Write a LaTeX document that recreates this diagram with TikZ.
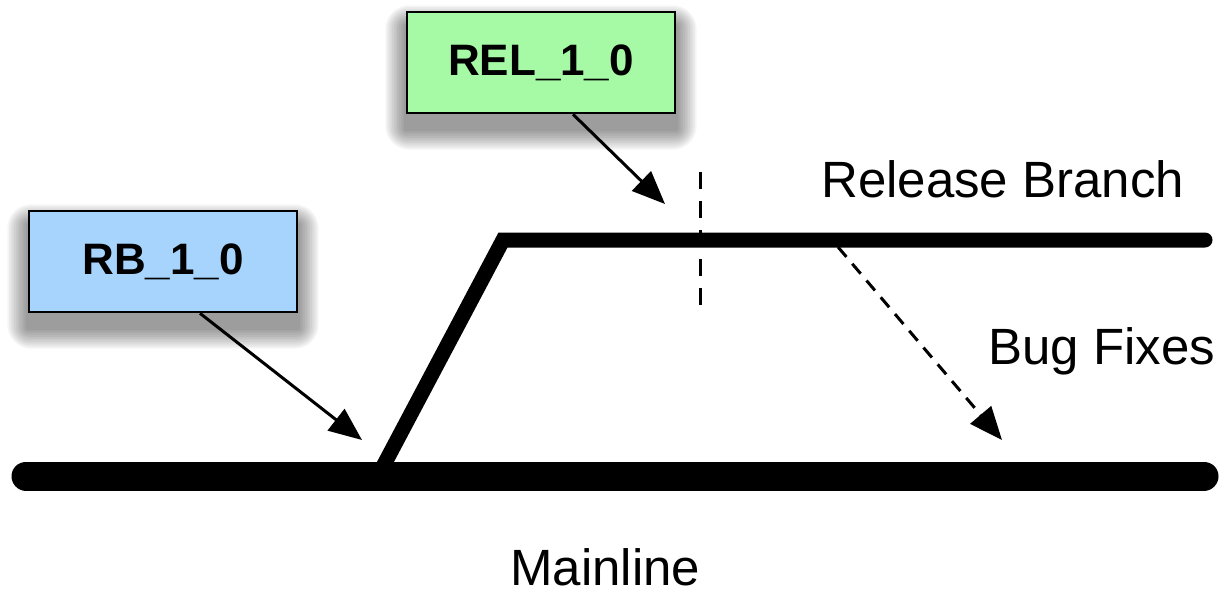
\documentclass[tikz,border=0pt]{standalone}
\usepackage{fontspec}
\setmainfont{Liberation Sans}
\usetikzlibrary{arrows.meta,backgrounds}
\definecolor{relgreen}{RGB}{166,250,166}
\definecolor{rbblue}{RGB}{166,212,252}
\tikzset{
  tagbox/.style={draw=black, line width=2.6pt, inner sep=0pt, minimum width=268pt, minimum height=101pt,
    font=\fontsize{44}{50}\selectfont\bfseries},
  lbl/.style={anchor=base west, inner sep=0pt, font=\fontsize{51}{60}\selectfont},
  ptr/.style={line width=3pt, -{Triangle[length=33pt,width=27pt]}},
  trunk/.style={line width=29pt, line cap=round},
  branch/.style={line width=15pt, line cap=round, line join=miter},
}
\newcommand{\softshadow}[1]{%
  \foreach \i in {1,...,12}{%
    \fill[black, opacity=0.04, rounded corners=2*\i pt]
      ([xshift=-1.7*\i pt, yshift=-15pt-1.7*\i pt]#1.south west) rectangle
      ([xshift=1.7*\i pt, yshift=-15pt+1.7*\i pt]#1.north east);
  }%
}
\begin{document}
\begin{tikzpicture}[x=1pt,y=-1pt]
\useasboundingbox (0,0) rectangle (1228,595);
% main lines
\coordinate (mlL) at (26,476);
\coordinate (mlR) at (1204,476);
\coordinate (brB) at (378,476);
\coordinate (brC) at (503,240);
\coordinate (brR) at (1205,240);
\draw[trunk] (mlL) -- (mlR);
\draw[branch] (brB) -- (brC) -- (brR);
% release cut
\coordinate (cutT) at (700,172);
\coordinate (cutB) at (700,308);
\draw[line width=3pt, dash pattern=on 17pt off 12pt] (cutT) -- (cutB);
% boxes
\node[tagbox, fill=relgreen] (rel) at (541,62.5) {REL\_1\_0};
\node[tagbox, fill=rbblue] (rb) at (163,261.5) {RB\_1\_0};
\begin{pgfonlayer}{background}
\softshadow{rel}
\softshadow{rb}
\end{pgfonlayer}
% pointers
\coordinate (relTip) at (665,204);
\coordinate (rbTip) at (362,440);
\draw[ptr] ([xshift=32pt]rel.south) -- (relTip);
\draw[ptr] ([xshift=37pt]rb.south) -- (rbTip);
% bug fixes
\coordinate (bfS) at (838,247);
\coordinate (bfT) at (1002,440);
\draw[ptr, dash pattern=on 13pt off 9pt] (bfS) -- (bfT);
% labels
\node[lbl] (relbr) at (821,197) {Release Branch};
\node[lbl] (bugfix) at (988,364) {Bug Fixes};
\node[lbl] (mainl) at (510,585) {Mainline};
\end{tikzpicture}
\end{document}
